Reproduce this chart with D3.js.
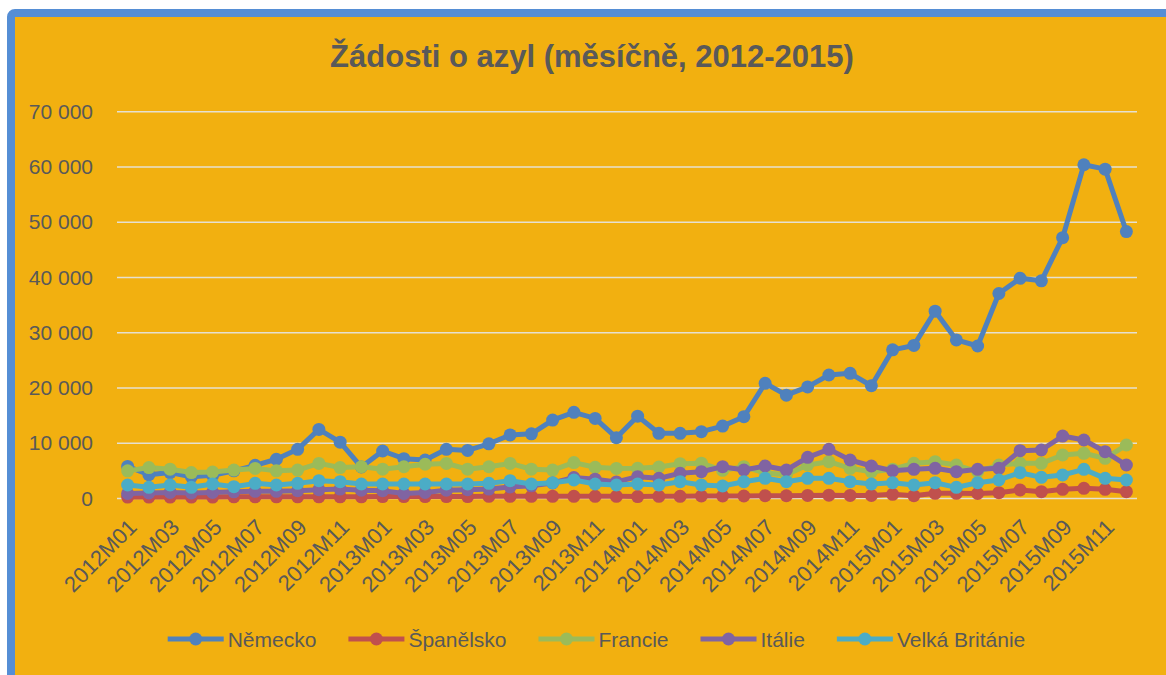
<!DOCTYPE html>
<html>
<head>
<meta charset="utf-8">
<script src="https://cdn.jsdelivr.net/npm/d3@7"></script>
<style>
  body { margin: 0; background: #fff; }
  text { font-family: "Liberation Sans", Arial, sans-serif; fill: #595959; }
</style>
</head>
<body>
<div id="chart"></div>
<script>
// data
const months = [];
[2012, 2013, 2014, 2015].forEach(y => {
  for (let m = 1; m <= 12; m++) months.push(y + "M" + (m < 10 ? "0" + m : m));
});

const nemecko = [5800, 4300, 4700, 3950, 4200, 5000, 6000, 7100, 8900, 12500, 10200, 5700,
  8600, 7200, 6970, 8900, 8700, 9900, 11500, 11700, 14200, 15600, 14500, 11000,
  14900, 11800, 11800, 12100, 13100, 14800, 20850, 18700, 20200, 22350, 22650, 20400,
  26900, 27700, 33900, 28700, 27600, 37100, 39850, 39400, 47200, 60400, 59600, 48300];
const spanelsko = [250, 250, 250, 250, 250, 300, 300, 300, 300, 300, 300, 300,
  350, 350, 350, 350, 350, 400, 400, 400, 400, 400, 400, 400,
  350, 400, 400, 450, 450, 450, 500, 500, 550, 600, 550, 550,
  760, 500, 940, 940, 900, 1050, 1540, 1240, 1660, 1840, 1660, 1240];
const francie = [5000, 5600, 5300, 4700, 4800, 5150, 5450, 5000, 5150, 6350, 5600, 5750,
  5300, 5750, 6200, 6350, 5300, 5750, 6350, 5300, 5150, 6500, 5650, 5450,
  5460, 5700, 6300, 6400, 5100, 5760, 4600, 4300, 6060, 6660, 5460, 4850,
  5300, 6370, 6660, 6060, 4850, 6060, 6370, 6370, 7870, 8180, 7270, 9680];
const italie = [900, 1000, 1100, 1000, 1100, 1200, 1300, 1300, 1400, 1600, 1700, 1500,
  1400, 900, 1100, 1500, 1600, 1700, 2100, 2300, 2800, 3800, 3500, 3000,
  3950, 3650, 4560, 4850, 5760, 5160, 5880, 5160, 7450, 8900, 6970, 5880,
  5030, 5280, 5460, 4850, 5280, 5460, 8650, 8780, 11300, 10590, 8470, 6060];
const britanie = [2440, 2020, 2440, 2020, 2620, 2140, 2740, 2440, 2740, 3220, 3040, 2620,
  2620, 2620, 2620, 2620, 2620, 2740, 3220, 2620, 2860, 3350, 2620, 2440,
  2620, 2440, 3040, 2440, 2260, 3040, 3650, 3040, 3650, 3650, 3040, 2620,
  2860, 2440, 2860, 2020, 2860, 3350, 4670, 3830, 4250, 5280, 3650, 3350];

const seriesNames = ["Německo", "Španělsko", "Francie", "Itálie", "Velká Británie"];
const seriesValues = [nemecko, spanelsko, francie, italie, britanie];
const colors = ["#4F81BD", "#C0504D", "#9BBB59", "#8064A2", "#4BACC6"];
const yTicks = [0, 10000, 20000, 30000, 40000, 50000, 60000, 70000];
const xTicks = months.filter((m, i) => i % 2 === 0);

const w = 1166, h = 675;

const svg = d3.select("#chart").append("svg")
  .attr("width", w)
  .attr("height", h);

// frame
svg.append("rect")
  .attr("x", 11).attr("y", 13)
  .attr("width", w + 40).attr("height", h + 40)
  .attr("rx", 4)
  .attr("fill", "#F2B010")
  .attr("stroke", "#558ED5")
  .attr("stroke-width", 8);

svg.append("text")
  .attr("x", 592).attr("y", 67)
  .attr("text-anchor", "middle")
  .style("font-size", "31px")
  .style("font-weight", "bold")
  .text("Žádosti o azyl (měsíčně, 2012-2015)");

const xScale = d3.scalePoint()
  .domain(months)
  .range([117, 1137])
  .padding(0.5);
const yScale = d3.scaleLinear()
  .domain([0, 70000])
  .range([498.5, 111.7]);

const fmt = d3.formatLocale({decimal: ",", thousands: " ", grouping: [3], currency: ["", ""]}).format(",d");

// gridlines
svg.append("g").selectAll("line")
  .data(yTicks)
  .enter()
  .append("line")
  .attr("x1", 117).attr("x2", 1137)
  .attr("y1", d => yScale(d)).attr("y2", d => yScale(d))
  .attr("stroke", "#E6E0D0")
  .attr("stroke-width", 1.5);

const yAxis = d3.axisLeft(yScale).tickValues(yTicks).tickFormat(fmt).tickSize(0).tickPadding(24);
const gy = svg.append("g")
  .attr("transform", "translate(117,0)")
  .call(yAxis);
gy.select(".domain").remove();
gy.selectAll("text").style("font-size", "21px").attr("font-family", null).attr("fill", "#595959");

const xAxis = d3.axisBottom(xScale).tickValues(xTicks).tickSize(0);
const gx = svg.append("g")
  .attr("transform", "translate(0,498.5)")
  .call(xAxis);
gx.select(".domain").remove();
gx.selectAll("text")
  .style("font-size", "22px")
  .attr("fill", "#595959")
  .attr("text-anchor", "end")
  .attr("dy", null)
  .attr("y", 0)
  .attr("transform", "translate(10,30) rotate(-45)");

// series
const line = d3.line()
  .x((d, i) => xScale(months[i]))
  .y(d => yScale(d));

seriesValues.forEach((vals, s) => {
  const g = svg.append("g");
  g.append("path")
    .attr("d", line(vals))
    .attr("fill", "none")
    .attr("stroke", colors[s])
    .attr("stroke-width", 5)
    .attr("stroke-linejoin", "round");
  g.selectAll("circle")
    .data(vals)
    .enter()
    .append("circle")
    .attr("cx", (d, i) => xScale(months[i]))
    .attr("cy", d => yScale(d))
    .attr("r", 6.5)
    .attr("fill", colors[s]);
});

// legend
const legend = svg.append("g");
const items = seriesNames.map((name, i) => {
  const it = legend.append("g");
  it.append("line")
    .attr("x1", 0).attr("x2", 56)
    .attr("y1", 0).attr("y2", 0)
    .attr("stroke", colors[i]).attr("stroke-width", 5);
  it.append("circle").attr("cx", 28).attr("cy", 0).attr("r", 6.5).attr("fill", colors[i]);
  const t = it.append("text").attr("x", 60).attr("y", 7.5).style("font-size", "21px").text(name);
  return {g: it, w: 60 + t.node().getComputedTextLength()};
});
const total = d3.sum(items, d => d.w) + 32 * (items.length - 1);
let lx = 596.5 - total / 2;
items.forEach(d => {
  d.g.attr("transform", "translate(" + lx + ",639)");
  lx += d.w + 32;
});
</script>
</body>
</html>
